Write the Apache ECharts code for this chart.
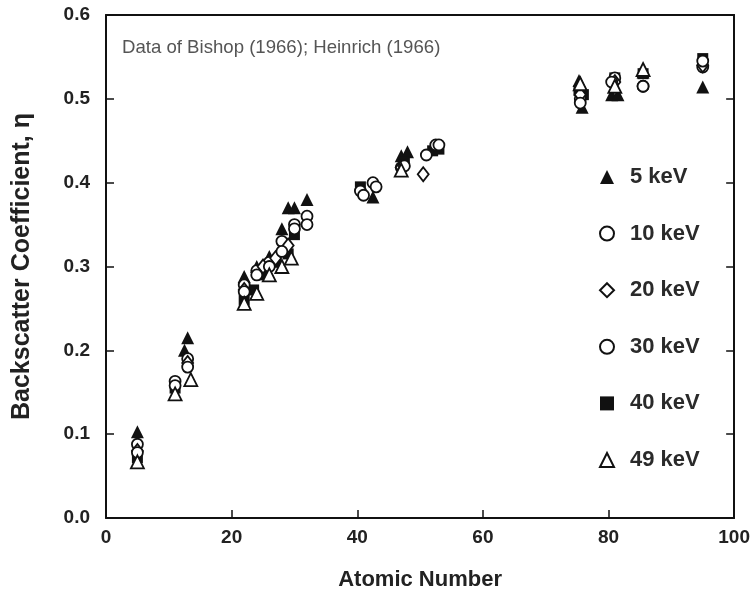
<!DOCTYPE html>
<html>
<head>
<meta charset="utf-8">
<script src="https://cdn.jsdelivr.net/npm/echarts@6/dist/echarts.min.js"></script>
<style>
  html, body { margin: 0; padding: 0; background: #fff; }
  #chart { width: 753px; height: 599px; }
</style>
</head>
<body>
<div id="chart"></div>
<script>
// Backscatter coefficient versus atomic number at several beam energies
const seriesNames = ['5 keV', '10 keV', '20 keV', '30 keV', '40 keV', '49 keV'];

const kev5 = [
  [5, 0.103], [12.5, 0.200], [13, 0.215], [22, 0.288], [24, 0.300], [26, 0.312],
  [28, 0.345], [29, 0.370], [30, 0.370], [32, 0.380], [42.5, 0.383], [47, 0.432],
  [48, 0.437], [75.3, 0.522], [75.8, 0.490], [80.5, 0.505], [81.5, 0.505],
  [85.5, 0.532], [95, 0.514]
];
const kev10 = [
  [5, 0.088], [11, 0.163], [13, 0.190], [22, 0.278], [24, 0.295], [26, 0.305],
  [28, 0.330], [30, 0.350], [32, 0.360], [40.5, 0.390], [42.5, 0.400], [47, 0.418],
  [51, 0.433], [52.5, 0.445], [75.5, 0.500], [81, 0.525], [85.5, 0.515], [95, 0.538]
];
const kev20 = [
  [5, 0.080], [13, 0.185], [22, 0.272], [25, 0.300], [27, 0.310], [29, 0.325],
  [47, 0.418], [50.5, 0.410], [75.5, 0.505], [81, 0.520], [95, 0.540]
];
const kev30 = [
  [5, 0.078], [11, 0.158], [13, 0.180], [22, 0.270], [24, 0.290], [26, 0.300],
  [28, 0.318], [30, 0.345], [32, 0.350], [41, 0.385], [43, 0.395], [47.5, 0.420],
  [53, 0.445], [75.5, 0.495], [80.5, 0.520], [85.5, 0.515], [95, 0.545]
];
const kev40 = [
  [5, 0.072], [11, 0.155], [13, 0.183], [22, 0.260], [23.5, 0.272], [25, 0.290],
  [27, 0.305], [29, 0.315], [30, 0.338], [40.5, 0.395], [47.5, 0.425], [52, 0.438],
  [53, 0.440], [75.3, 0.510], [76, 0.505], [81, 0.525], [85.5, 0.530], [95, 0.548]
];
const kev49 = [
  [5, 0.067], [11, 0.148], [13.5, 0.165], [22, 0.256], [24, 0.268], [26, 0.290],
  [28, 0.300], [29.5, 0.310], [47, 0.415], [75.5, 0.518], [81, 0.515], [85.5, 0.535]
];

const xTicks = [0, 20, 40, 60, 80, 100];
const yTicks = [0.0, 0.1, 0.2, 0.3, 0.4, 0.5, 0.6];

const seriesData = [kev5, kev10, kev20, kev30, kev40, kev49];
const symbols = ['triangle', 'circle', 'diamond', 'circle', 'rect', 'triangle'];
const filled = [true, false, false, false, true, false];
const sizes = [13, 11, [11, 14], 11, 11, 13];

const chart = echarts.init(document.getElementById('chart'), null, { renderer: 'canvas' });

const fontFam = 'Liberation Sans, Arial, Helvetica, sans-serif';

const series = seriesNames.map((name, i) => ({
  name: name,
  type: 'scatter',
  data: seriesData[i],
  symbol: symbols[i],
  symbolSize: sizes[i],
  itemStyle: {
    color: filled[i] ? '#111' : '#fff',
    borderColor: '#111',
    borderWidth: filled[i] ? 0 : 1.8,
    opacity: 1
  },
  z: filled[i] ? 3 : 4
}));

chart.setOption({
  backgroundColor: '#fff',
  animation: false,
  grid: { left: 106, right: 17, top: 15, bottom: 81 },
  legend: {
    orient: 'vertical',
    left: 594,
    top: 161,
    itemWidth: 14,
    itemHeight: 14,
    itemGap: 34.6,
    data: seriesNames,
    textStyle: {
      fontFamily: fontFam, fontSize: 22, fontWeight: 'bold', color: '#2a2a2a',
      lineHeight: 22, padding: [0, 0, 0, 11]
    }
  },
  graphic: [{
    type: 'text',
    left: 122,
    top: 38,
    style: {
      text: 'Data of Bishop (1966); Heinrich (1966)',
      font: '18.6px ' + fontFam,
      fill: '#555'
    }
  }],
  xAxis: [{
    type: 'value',
    min: xTicks[0],
    max: xTicks[xTicks.length - 1],
    interval: 20,
    name: 'Atomic Number',
    nameLocation: 'middle',
    nameGap: 51,
    nameTextStyle: { fontFamily: fontFam, fontSize: 22, fontWeight: 'bold', color: '#222' },
    axisLine: { show: true, lineStyle: { color: '#111', width: 2 } },
    axisTick: { show: true, inside: true, length: 8, lineStyle: { color: '#111', width: 1.5 } },
    axisLabel: { margin: 10, fontFamily: fontFam, fontSize: 19, fontWeight: 'bold', color: '#222' },
    splitLine: { show: false }
  }, {
    type: 'value',
    position: 'top',
    min: xTicks[0],
    max: xTicks[xTicks.length - 1],
    interval: 20,
    axisLine: { show: true, onZero: false, lineStyle: { color: '#111', width: 2 } },
    axisTick: { show: false },
    axisLabel: { show: false },
    splitLine: { show: false }
  }],
  yAxis: [{
    type: 'value',
    min: yTicks[0],
    max: yTicks[yTicks.length - 1],
    interval: 0.1,
    name: 'Backscatter Coefficient, η',
    nameLocation: 'middle',
    nameGap: 71,
    nameTextStyle: { fontFamily: fontFam, fontSize: 25, fontWeight: 'bold', color: '#222' },
    axisLine: { show: true, lineStyle: { color: '#111', width: 2 } },
    axisTick: { show: true, inside: true, length: 8, lineStyle: { color: '#111', width: 1.5 } },
    axisLabel: {
      margin: 16, fontFamily: fontFam, fontSize: 19, fontWeight: 'bold', color: '#222',
      formatter: v => v.toFixed(1)
    },
    splitLine: { show: false }
  }, {
    type: 'value',
    position: 'right',
    min: yTicks[0],
    max: yTicks[yTicks.length - 1],
    interval: 0.1,
    axisLine: { show: true, onZero: false, lineStyle: { color: '#111', width: 2 } },
    axisTick: { show: true, inside: true, length: 8, lineStyle: { color: '#111', width: 1.5 } },
    axisLabel: { show: false },
    splitLine: { show: false }
  }],
  series: series
});
</script>
</body>
</html>
